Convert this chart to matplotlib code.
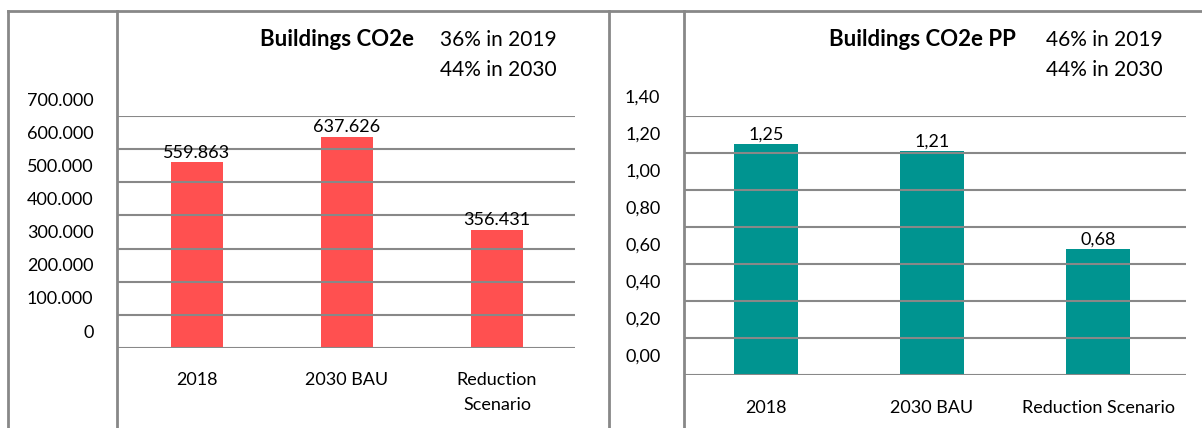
import matplotlib.pyplot as plt
from matplotlib.lines import Line2D
from matplotlib.transforms import ScaledTranslation

plt.rcParams['font.family'] = ['Lato', 'DejaVu Sans']

categories_left = ['2018', '2030 BAU', 'Reduction\nScenario']
co2e = [559863, 637626, 356431]
ticks_left = [0, 100000, 200000, 300000, 400000, 500000, 600000, 700000]

categories_right = ['2018', '2030 BAU', 'Reduction Scenario']
co2e_pp = [1.25, 1.21, 0.68]
ticks_right = [0.0, 0.2, 0.4, 0.6, 0.8, 1.0, 1.2, 1.4]

W, H = 1202, 428
fig = plt.figure(figsize=(W / 100, H / 100), dpi=100)
grey = '#888888'
fs = 13


def px(x0, y0, x1, y1):
    # pixel box -> figure fraction rect
    return [x0 / W, 1 - y1 / H, (x1 - x0) / W, (y1 - y0) / H]


def dot_thousands(v):
    return f'{v:,.0f}'.replace(',', '.')


def comma_dec(v):
    return f'{v:.2f}'.replace('.', ',')


def setup(ax, ticks, labels, cats, xlim, shift_px, xpad):
    ax.set_ylim(ticks[0], ticks[-1])
    ax.set_xlim(*xlim)
    for s in ax.spines.values():
        s.set_visible(False)
    for t in ticks:
        ax.axhline(t, color=grey, lw=1.5, zorder=3)
    ax.set_yticks(ticks)
    ax.set_yticklabels(labels, fontsize=fs)
    ax.set_xticks(range(len(cats)))
    ax.set_xticklabels(cats, fontsize=fs, linespacing=1.7)
    ax.tick_params(axis='y', length=0, pad=17)
    ax.tick_params(axis='x', length=0, pad=xpad)
    # value labels sit half a band above their gridline
    off = ScaledTranslation(0, shift_px / 100, fig.dpi_scale_trans)
    for lab in ax.get_yticklabels():
        lab.set_transform(lab.get_transform() + off)


# left chart: absolute emissions
ax1 = fig.add_axes(px(117, 116, 575, 348))
bars1 = ax1.bar(range(3), co2e, width=0.35, color='#FF5050', zorder=2)
setup(ax1, ticks_left, [dot_thousands(t) for t in ticks_left], categories_left,
      (-0.533, 2.52), 17, 17)
ax1.bar_label(bars1, labels=[dot_thousands(v) for v in co2e], fontsize=fs, padding=1)

# right chart: per person
ax2 = fig.add_axes(px(684, 116, 1186, 375))
bars2 = ax2.bar(range(3), co2e_pp, width=0.386, color='#009490', zorder=2)
setup(ax2, ticks_right, [comma_dec(t) for t in ticks_right], categories_right,
      (-0.494, 2.53), 20, 18)
ax2.bar_label(bars2, labels=[comma_dec(v) for v in co2e_pp], fontsize=fs, padding=1)

# frame lines
frame = [((8, W), (11, 11)), ((8, 8), (11, H)), ((117, 117), (11, H)),
         ((609, 609), (11, H)), ((684, 684), (11, H))]
for xs, ys in frame:
    fig.add_artist(Line2D([x / W for x in xs], [1 - y / H for y in ys],
                          color=grey, lw=2, transform=fig.transFigure))

# headings
hs = 15
fig.text(414 / W, 1 - 40 / H, 'Buildings CO2e', fontsize=16, fontweight='bold',
         ha='right', va='center')
fig.text(440 / W, 1 - 40 / H, '36% in 2019', fontsize=hs, ha='left', va='center')
fig.text(440 / W, 1 - 70 / H, '44% in 2030', fontsize=hs, ha='left', va='center')
fig.text(1016 / W, 1 - 40 / H, 'Buildings CO2e PP', fontsize=16, fontweight='bold',
         ha='right', va='center')
fig.text(1046 / W, 1 - 40 / H, '46% in 2019', fontsize=hs, ha='left', va='center')
fig.text(1046 / W, 1 - 70 / H, '44% in 2030', fontsize=hs, ha='left', va='center')

fig.savefig('out.png', dpi=100)
